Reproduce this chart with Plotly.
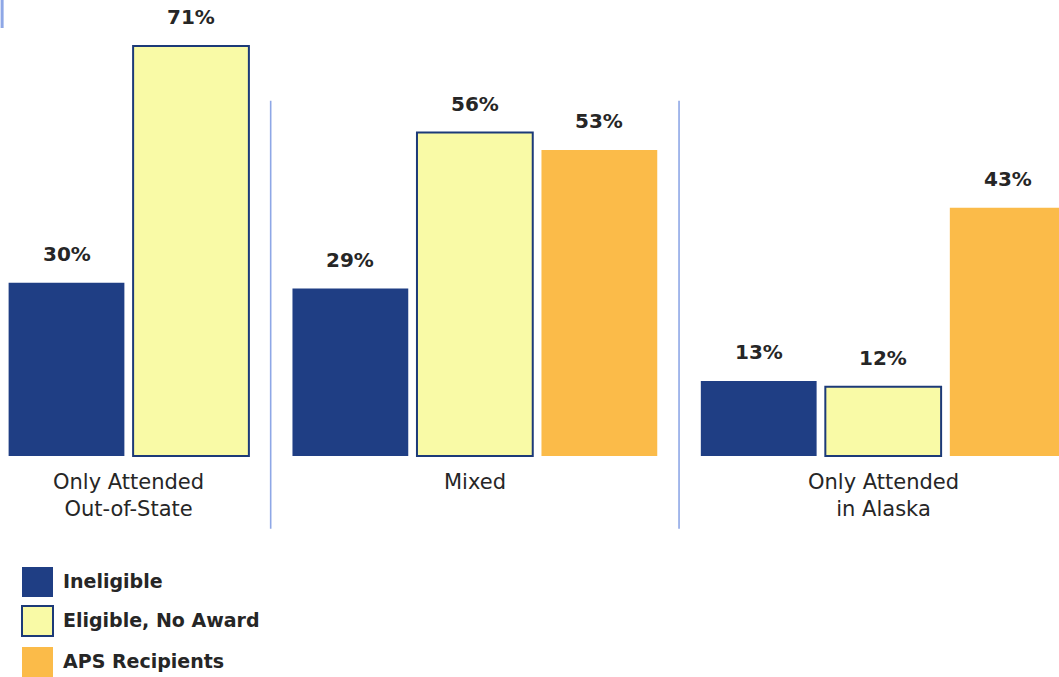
import plotly.graph_objects as go

# ---- data ----
groups = ["Only Attended<br>Out-of-State", "Mixed", "Only Attended<br>in Alaska"]
series_names = ["Ineligible", "Eligible, No Award", "APS Recipients"]
ineligible = [30, 29, 13]
eligible_no_award = [71, 56, 12]
aps_recipients = [None, 53, 43]

# ---- styles ----
fill_colors = ["#1f3e84", "#f9faa6", "#fbbb49"]
line_colors = ["#1f3e84", "#1c3a78", "#fbbb49"]
line_widths = [0, 2, 0]
TEXT = "#262626"
FONT = "DejaVu Sans"
SEP = "#8ea7e6"
GAP = 1.28      # extra spacing between groups, in bar slots
BAR_W = 0.93

series = [ineligible, eligible_no_award, aps_recipients]

# layout positions of each bar slot (derived from the group structure)
positions = {}
group_centers = []
group_bounds = []
start = 0.0
for g in range(len(groups)):
    present = [s for s in range(len(series)) if series[s][g] is not None]
    xs = []
    for i, s in enumerate(present):
        positions[(s, g)] = start + i
        xs.append(start + i)
    group_centers.append(sum(xs) / len(xs))
    group_bounds.append((xs[0], xs[-1]))
    start = xs[-1] + GAP

fig = go.Figure()
for s, name in enumerate(series_names):
    xs, ys = [], []
    for g in range(len(groups)):
        v = series[s][g]
        if v is not None:
            xs.append(positions[(s, g)])
            ys.append(v)
    fig.add_trace(go.Bar(
        x=xs, y=ys, name=name, width=BAR_W,
        marker=dict(color=fill_colors[s],
                    line=dict(color=line_colors[s], width=line_widths[s])),
        showlegend=False, hoverinfo="skip",
    ))
    for x, v in zip(xs, ys):
        fig.add_annotation(x=x, y=v, text=f"<b>{v}%</b>", showarrow=False,
                           yanchor="bottom", yshift=15,
                           font=dict(family=FONT, size=20, color=TEXT))

# group labels
for g, label in enumerate(groups):
    fig.add_annotation(x=group_centers[g], y=0, text=label, showarrow=False,
                       yanchor="top", yshift=-12, align="center",
                       font=dict(family=FONT, size=21, color=TEXT))

# separators between groups
for g in range(len(groups) - 1):
    xm = (group_bounds[g][1] + group_bounds[g + 1][0]) / 2
    fig.add_shape(type="line", x0=xm, x1=xm, y0=61.5, y1=-12.6,
                  xref="x", yref="y", line=dict(color=SEP, width=1.6))

# small frame fragment at top-left
fig.add_shape(type="line", x0=0.002, x1=0.002, y0=1, y1=1 - 28 / 677,
              xref="paper", yref="paper", line=dict(color=SEP, width=3))

# legend drawn as swatches + text
W, H = 1059, 677
sw_top = [567, 606, 647]
for s, name in enumerate(series_names):
    y0 = sw_top[s]
    fig.add_shape(type="rect", xref="paper", yref="paper",
                  x0=22 / W, x1=53 / W, y0=1 - y0 / H, y1=1 - (y0 + 30) / H,
                  fillcolor=fill_colors[s],
                  line=dict(color=line_colors[s], width=line_widths[s]))
    fig.add_annotation(xref="paper", yref="paper", x=61 / W, y=1 - (y0 + 14) / H,
                       text=f"<b>{name}</b>", showarrow=False, xanchor="left",
                       yanchor="middle",
                       font=dict(family=FONT, size=19, color=TEXT))

unit_px = 124.5
xmin = -66.5 / unit_px
px_per_pct = 410 / 71
ymax = 456 / px_per_pct
ymin = ymax - H / px_per_pct

fig.update_layout(
    width=W, height=H,
    margin=dict(l=0, r=0, t=0, b=0),
    paper_bgcolor="white", plot_bgcolor="white",
    barmode="overlay",
    hovermode=False,
    xaxis=dict(range=[xmin, xmin + W / unit_px], visible=False),
    yaxis=dict(range=[ymin, ymax], visible=False),
)
fig.write_html("out.html", config={"displayModeBar": False},
               post_script="document.body.style.margin='0';document.body.style.overflow='hidden';")
